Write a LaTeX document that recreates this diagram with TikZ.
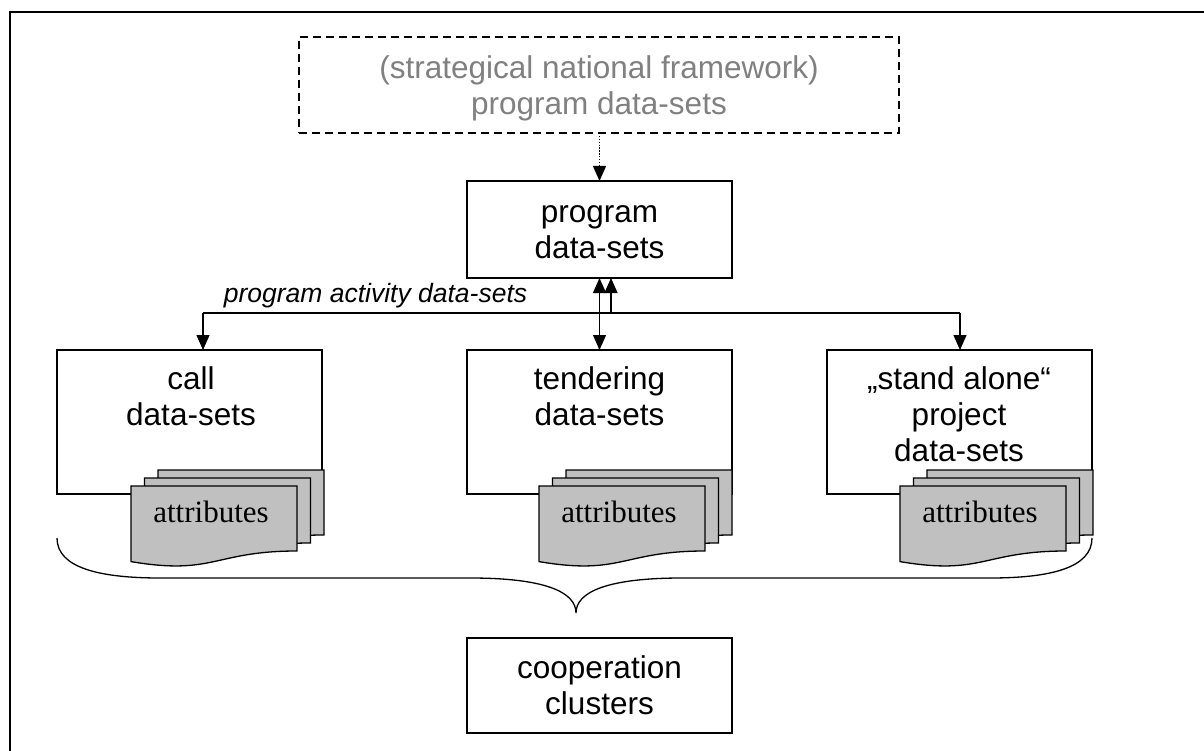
\documentclass[tikz,border=0pt]{standalone}
\usepackage{fontspec}
\setmainfont{Liberation Sans}
\newfontfamily\attrfont{Liberation Serif}
\usetikzlibrary{arrows.meta,calc}
\definecolor{docgray}{HTML}{C0C0C0}
\definecolor{txtgray}{HTML}{808080}
\newcommand{\docpage}[2]{%
  \begin{scope}[shift={(#1,#2)}]
    \filldraw[fill=docgray] (0,0) -- (166,0) -- (166,65) .. controls (83,65) and (83,89.7) .. (0,75.6) -- cycle;
  \end{scope}}
\newcommand{\docstack}[2]{%
  \docpage{#1+27}{#2-16}%
  \docpage{#1+13.5}{#2-8}%
  \docpage{#1}{#2}}
\begin{document}
\begin{tikzpicture}[x=1pt,y=-1pt,line width=1.3pt,
  box/.style={draw,inner sep=0pt,outer sep=0pt,minimum width=265pt,anchor=north west},
  lbl/.style={font=\fontsize{31.5}{36}\selectfont,align=center,inner sep=0pt,anchor=north},
  attr/.style={font=\attrfont\fontsize{31}{36}\selectfont,inner sep=0pt,anchor=base},
  arr/.style={-{Triangle[length=15pt,width=13pt]}},
  arrboth/.style={{Triangle[length=15pt,width=13pt]}-{Triangle[length=15pt,width=13pt]}}]
\useasboundingbox (0,0) rectangle (1204,751);
% frame
\draw[line width=2pt] (10,751) -- (10,12) -- (1204,12);
% top dashed box
\node[box,dash pattern=on 8pt off 5pt,minimum width=600pt,minimum height=96pt] (strat) at (299,37) {};
\node[lbl,text=txtgray] (stratT) at (599,55) {(strategical national framework)\\program data-sets};
% program box
\node[box,minimum height=97pt] (prog) at (467,181) {};
\node[lbl] (progT) at (599.5,204.5) {program\\data-sets};
% three boxes
\node[box,minimum height=144pt] (call) at (57,350) {};
\node[box,minimum height=144pt] (tend) at (467,350) {};
\node[box,minimum height=144pt] (stand) at (827,350) {};
\node[lbl] (callT) at (191,366.5) {call\\data-sets};
\node[lbl] (tendT) at (599.5,366.5) {tendering\\data-sets};
\node[lbl] (standT) at (959,366.5) {„stand alone“\\project\\data-sets};
% document stacks
\docstack{131}{486}
\docstack{539}{486}
\docstack{900}{486}
\node[attr] (attrC) at (211,522) {attributes};
\node[attr] (attrT) at (619,522) {attributes};
\node[attr] (attrS) at (980,522) {attributes};
% cooperation
\node[box,minimum height=95pt] (coop) at (467,638) {};
\node[lbl] (coopT) at (599.5,655.5) {cooperation\\clusters};
% label
\node[font=\fontsize{26.5}{30}\selectfont\itshape,inner sep=0pt,anchor=base] (actlbl) at (375.5,302) {program activity data-sets};
% connectors
\draw[arr,dash pattern=on 1.3pt off 1.6pt] (strat.south -| prog.north) -- (prog.north);
\coordinate (busL) at (203,313);
\coordinate (busR) at (960,313);
\coordinate (busM) at (611,313);
\draw (busL) -- (busR);
\draw[arr] (busL) -- (busL |- call.north);
\draw[arr] (busR) -- (busR |- stand.north);
\draw[arr] (busM) -- (busM |- prog.south);
\draw[arrboth] (prog.south) -- (tend.north);
% brace
\draw (57,538) .. controls (57,568) and (100,578) .. (160,578) -- (470,578)
  .. controls (545,578) and (576,592) .. (576,613)
  .. controls (576,592) and (607,578) .. (682,578) -- (990,578)
  .. controls (1050,578) and (1092,568) .. (1092,538);
\end{tikzpicture}
\end{document}
